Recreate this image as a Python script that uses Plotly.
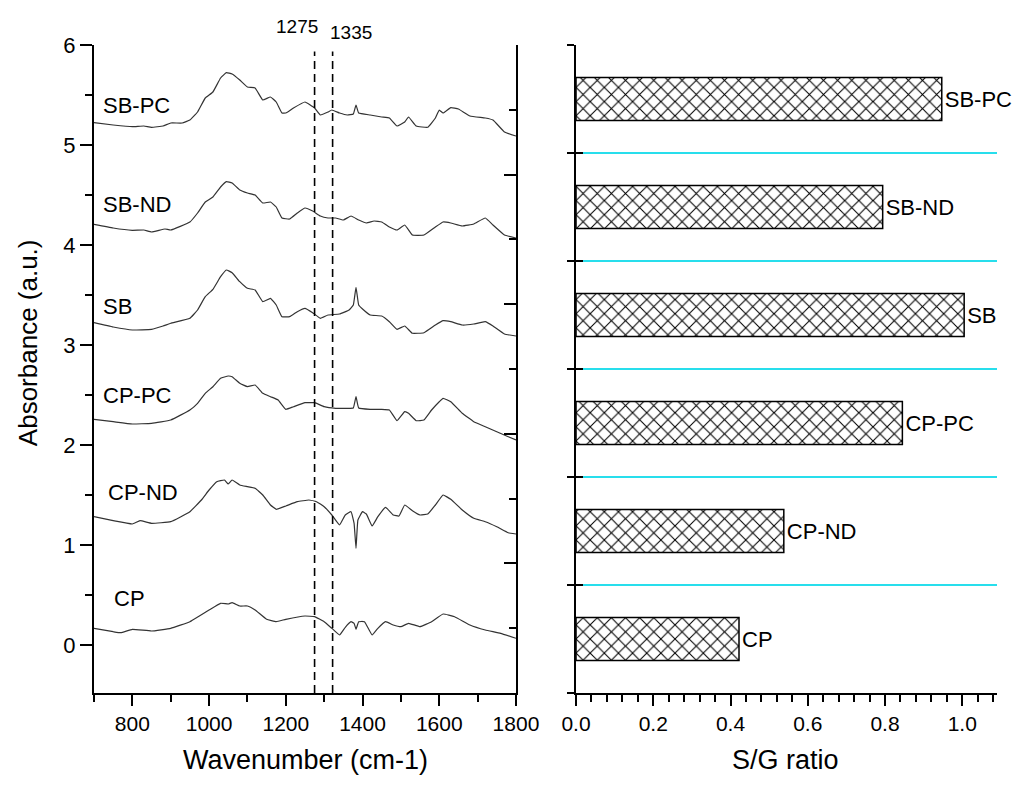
import plotly.graph_objects as go

# ---------------- data ----------------
SBPC_wn = [700,750,800,830,850,880,900,930,950,970,990,1010,1030,1045,1060,1080,1100,1120,1140,1160,
           1175,1190,1200,1220,1250,1275,1290,1310,1320,1340,1360,1376,1383,1390,1420,1450,1470,1490,1510,1520,
           1540,1570,1590,1600,1610,1630,1650,1680,1720,1740,1770,1800]
SBPC_abs = [5.223,5.20,5.183,5.19,5.177,5.19,5.22,5.22,5.25,5.33,5.47,5.53,5.67,5.723,5.71,5.65,5.58,5.57,5.45,5.48,
            5.43,5.32,5.32,5.37,5.43,5.37,5.30,5.33,5.35,5.32,5.30,5.31,5.40,5.32,5.30,5.28,5.27,5.19,5.23,5.28,
            5.19,5.177,5.27,5.35,5.32,5.373,5.36,5.29,5.27,5.25,5.13,5.09]

SBND_wn = [700,750,800,830,850,885,900,950,970,990,1010,1030,1045,1060,1080,1100,1120,1140,1160,1175,
           1190,1210,1230,1250,1270,1290,1310,1330,1350,1370,1390,1410,1430,1450,1470,1490,1510,1530,1560,1590,
           1610,1630,1660,1690,1720,1740,1770,1800]
SBND_abs = [4.207,4.17,4.147,4.15,4.13,4.16,4.15,4.23,4.32,4.43,4.48,4.58,4.633,4.62,4.55,4.52,4.50,4.42,4.43,4.38,
            4.27,4.26,4.32,4.37,4.34,4.29,4.27,4.27,4.25,4.29,4.25,4.22,4.24,4.23,4.18,4.15,4.20,4.10,4.10,4.18,
            4.23,4.22,4.19,4.21,4.27,4.20,4.10,4.07]

SB_wn = [700,750,800,850,880,900,950,970,990,1010,1030,1045,1060,1080,1100,1120,1140,1160,1175,1190,
         1210,1230,1250,1270,1290,1310,1340,1365,1376,1383,1390,1400,1420,1450,1470,1490,1510,1530,1560,1590,
         1610,1630,1660,1690,1720,1740,1770,1800]
SB_abs = [3.223,3.18,3.15,3.157,3.19,3.217,3.267,3.35,3.483,3.557,3.683,3.75,3.723,3.633,3.567,3.55,3.433,3.467,3.40,3.283,
          3.283,3.333,3.367,3.323,3.267,3.30,3.31,3.35,3.40,3.577,3.40,3.36,3.30,3.29,3.233,3.157,3.19,3.117,3.123,3.20,
          3.243,3.233,3.20,3.21,3.233,3.19,3.11,3.09]

CPPC_wn = [700,750,800,850,900,950,970,990,1010,1030,1050,1060,1080,1100,1120,1140,1160,1180,1200,1220,
           1250,1275,1300,1330,1360,1376,1383,1390,1420,1450,1470,1490,1510,1520,1540,1560,1580,1600,1610,1630,
           1660,1690,1720,1750,1780,1800]
CPPC_abs = [2.257,2.233,2.21,2.217,2.25,2.35,2.417,2.517,2.583,2.667,2.69,2.683,2.617,2.583,2.60,2.517,2.483,2.45,2.357,2.383,
            2.423,2.423,2.383,2.367,2.367,2.37,2.483,2.37,2.357,2.357,2.35,2.243,2.333,2.317,2.243,2.25,2.35,2.433,2.467,2.433,
            2.317,2.233,2.183,2.133,2.083,2.05]

CPND_wn = [700,750,800,820,850,900,950,980,1000,1020,1040,1050,1060,1080,1100,1120,1140,1160,1175,1200,
           1230,1260,1280,1300,1320,1340,1355,1370,1378,1383,1388,1400,1410,1425,1440,1460,1480,1495,1510,1530,
           1550,1570,1590,1610,1630,1660,1690,1720,1750,1780,1800]
CPND_abs = [1.283,1.243,1.21,1.243,1.217,1.233,1.333,1.45,1.55,1.633,1.65,1.61,1.65,1.60,1.583,1.567,1.50,1.40,1.357,1.39,
            1.433,1.45,1.433,1.383,1.30,1.20,1.30,1.333,1.217,0.967,1.25,1.333,1.31,1.19,1.283,1.377,1.30,1.29,1.40,1.343,
            1.30,1.31,1.40,1.50,1.457,1.35,1.267,1.233,1.183,1.123,1.11]

CP_wn = [700,750,770,800,850,900,950,1000,1030,1050,1060,1080,1100,1120,1150,1175,1200,1250,1275,1300,
         1320,1340,1355,1370,1378,1383,1390,1405,1425,1440,1460,1480,1500,1520,1550,1580,1610,1640,1680,1720,
         1760,1800]
CP_abs = [0.167,0.133,0.123,0.157,0.14,0.167,0.233,0.35,0.417,0.41,0.423,0.39,0.39,0.35,0.257,0.233,0.257,0.29,0.283,0.233,
          0.167,0.10,0.177,0.233,0.217,0.157,0.233,0.233,0.10,0.167,0.233,0.20,0.183,0.217,0.183,0.233,0.31,0.283,0.20,0.15,
          0.117,0.067]

spectra = [
    ("SB-PC", SBPC_wn, SBPC_abs, 717, 5.40),
    ("SB-ND", SBND_wn, SBND_abs, 717, 4.41),
    ("SB",    SB_wn,   SB_abs,   719, 3.39),
    ("CP-PC", CPPC_wn, CPPC_abs, 719, 2.50),
    ("CP-ND", CPND_wn, CPND_abs, 730, 1.53),
    ("CP",    CP_wn,   CP_abs,   748, 0.47),
]

dash_wn = [1275, 1322]
dash_labels = ["1275", "1335"]

# S/G ratio bars (bottom to top)
sg_samples = ["CP", "CP-ND", "CP-PC", "SB", "SB-ND", "SB-PC"]
sg_ratio = [0.422, 0.538, 0.845, 1.005, 0.794, 0.947]

# ---------------- figure ----------------
FONT = "Arial, 'Liberation Sans', sans-serif"
GRID_CYAN = "rgb(40,222,236)"

fig = go.Figure()

for name, wn, ab, lx, ly in spectra:
    assert len(wn) == len(ab), name
    fig.add_trace(go.Scatter(x=wn, y=ab, mode="lines", xaxis="x", yaxis="y",
                             line=dict(color="#333333", width=1.2, shape="spline", smoothing=0.3),
                             showlegend=False, hoverinfo="skip"))
    fig.add_annotation(x=lx, y=ly, xref="x", yref="y", text=name, showarrow=False,
                       xanchor="left", yanchor="middle", font=dict(family=FONT, size=22, color="black"))

for i, (wn, lab) in enumerate(zip(dash_wn, dash_labels)):
    fig.add_shape(type="line", xref="x", yref="paper", x0=wn, x1=wn, y0=0, y1=0.99,
                  line=dict(color="black", width=1.6, dash="8px,5px"))
    fig.add_annotation(x=wn, y=1.028 if i == 0 else 1.02, xref="x", yref="paper", text=lab,
                       showarrow=False, xanchor="right" if i == 0 else "left",
                       xshift=5 if i == 0 else -5, yanchor="middle",
                       font=dict(family=FONT, size=19, color="black"))

fig.add_trace(go.Bar(x=sg_ratio, y=sg_samples, orientation="h", xaxis="x2", yaxis="y2",
                     width=0.4, text=sg_samples, textposition="outside", cliponaxis=False,
                     textfont=dict(family=FONT, size=22, color="black"),
                     marker=dict(color="white", line=dict(color="black", width=1.5),
                                 pattern=dict(shape="x", size=10, solidity=0.2,
                                              fgcolor="black", bgcolor="white", fgopacity=1)),
                     showlegend=False, hoverinfo="skip"))
# helper invisible traces for the overlay axes
fig.add_trace(go.Scatter(x=[None], y=[None], xaxis="x2", yaxis="y4", showlegend=False, hoverinfo="skip"))
fig.add_trace(go.Scatter(x=[None], y=[None], xaxis="x", yaxis="y3", showlegend=False, hoverinfo="skip"))

axcommon = dict(showline=True, linecolor="black", linewidth=2, zeroline=False,
                tickcolor="black", tickwidth=2, mirror=False, automargin=False)

boundaries = [i - 0.5 for i in range(len(sg_samples) + 1)]
inner = boundaries[1:-1]

fig.update_layout(
    template="none",
    width=1012, height=771,
    margin=dict(l=86, r=23, t=37, b=86, autoexpand=False),
    paper_bgcolor="white", plot_bgcolor="white",
    font=dict(family=FONT, color="black"),
    xaxis=dict(domain=[0, 0.4673], range=[700, 1800], anchor="y", ticks="outside", ticklen=11,
               dtick=200, tick0=0, tickfont=dict(family=FONT, size=21), showgrid=False,
               minor=dict(dtick=100, ticklen=7, ticks="outside", tickwidth=2, tickcolor="black", showgrid=False),
               **axcommon),
    yaxis=dict(domain=[0, 1], range=[-0.48, 6], anchor="x", ticks="outside", ticklen=12,
               dtick=1, tick0=0, tickfont=dict(family=FONT, size=22), showgrid=False,
               minor=dict(dtick=0.5, ticklen=7, ticks="outside", tickwidth=2, tickcolor="black", showgrid=False),
               **axcommon),
    yaxis3=dict(overlaying="y", side="right", anchor="x", range=[0, 5], ticks="inside", ticklen=12,
                dtick=1, tick0=0, showticklabels=False, showgrid=False,
                minor=dict(dtick=0.5, ticklen=7, ticks="inside", tickwidth=2, tickcolor="black", showgrid=False),
                **axcommon),
    xaxis2=dict(domain=[0.5338, 1], range=[0, 1.09], anchor="y2", ticks="outside", ticklen=11,
                dtick=0.2, tick0=0, tickformat=".1f", tickfont=dict(family=FONT, size=21), showgrid=False,
                minor=dict(dtick=0.04, ticklen=7, ticks="outside", tickwidth=2, tickcolor="black", showgrid=False),
                **axcommon),
    yaxis2=dict(anchor="x2", type="category", categoryorder="array", categoryarray=sg_samples,
                range=[-0.5, 5.5], ticks="outside", ticklen=7, tickson="boundaries",
                showticklabels=False, showgrid=True, gridcolor=GRID_CYAN, gridwidth=1.5, **axcommon),
    yaxis4=dict(overlaying="y2", anchor="x2", range=[-0.5, 5.5], tickmode="array", tickvals=inner,
                ticks="inside", ticklen=7, tickwidth=2, tickcolor="black", showticklabels=False,
                showline=False, zeroline=False, showgrid=False, automargin=False),
)

fig.add_annotation(x=-0.073, y=0.54, xref="paper", yref="paper", text="Absorbance (a.u.)",
                   textangle=-90, showarrow=False, xanchor="center", yanchor="middle",
                   font=dict(family=FONT, size=26, color="black"))
fig.add_annotation(x=0.2337, y=-0.130, xref="paper", yref="paper", text="Wavenumber (cm-1)",
                   showarrow=False, xanchor="center", yanchor="bottom",
                   font=dict(family=FONT, size=27, color="black"))
fig.add_annotation(x=0.766, y=-0.130, xref="paper", yref="paper", text="S/G ratio",
                   showarrow=False, xanchor="center", yanchor="bottom",
                   font=dict(family=FONT, size=27, color="black"))

fig.write_html("out.html")
